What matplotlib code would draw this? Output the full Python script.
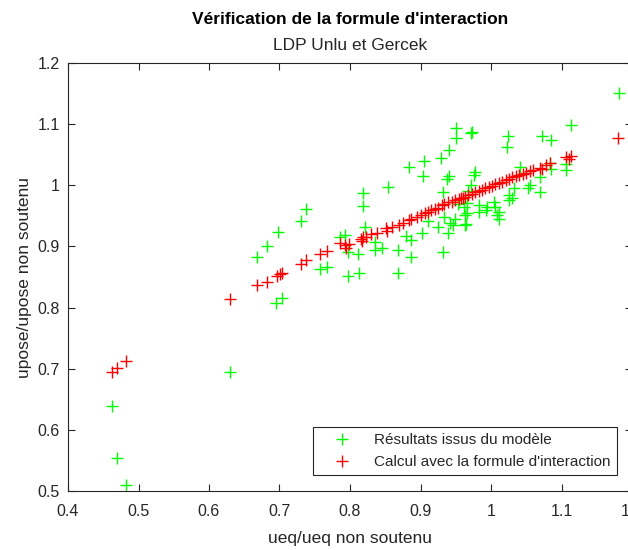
import matplotlib
matplotlib.use("Agg")
import matplotlib.pyplot as plt
from matplotlib.ticker import FuncFormatter

plt.rcParams['font.family'] = ['Liberation Sans', 'DejaVu Sans']

# Model results (green)
green_x = [0.463, 0.469, 0.482, 0.630, 0.695, 0.703, 0.668, 0.682, 0.698, 0.731,
           0.738, 0.757, 0.767, 0.786, 0.793, 0.797, 0.813, 0.868, 0.797, 0.812,
           0.821, 0.835, 0.835, 0.845, 0.868, 0.880, 0.887, 0.887, 0.902, 0.910,
           0.925, 0.939, 0.942, 0.946, 0.963, 0.932, 0.819, 0.819, 0.854, 0.883,
           0.905, 0.929, 0.940, 0.950, 0.950, 0.971, 0.973, 0.903, 0.937, 0.940,
           0.978, 0.932, 0.976, 0.971, 0.968, 1.024, 1.023, 1.073, 1.085, 1.114,
           1.181, 1.041, 1.083, 1.085, 1.107, 1.107, 1.055, 1.052, 1.070, 1.025,
           1.030, 1.025, 1.004, 1.005, 0.993, 0.983, 0.961, 0.966, 0.963, 0.965,
           0.983, 0.994, 1.009, 1.012, 0.953, 0.949, 0.934, 1.011, 0.966, 1.069,
           1.033]
green_y = [0.639, 0.554, 0.509, 0.694, 0.807, 0.816, 0.882, 0.900, 0.923, 0.941,
           0.961, 0.863, 0.867, 0.916, 0.919, 0.851, 0.857, 0.857, 0.891, 0.887,
           0.931, 0.908, 0.894, 0.897, 0.894, 0.917, 0.911, 0.882, 0.922, 0.941,
           0.932, 0.922, 0.938, 0.935, 0.935, 0.891, 0.987, 0.966, 0.998, 1.030,
           1.039, 1.045, 1.057, 1.094, 1.077, 1.086, 1.087, 1.015, 1.011, 1.016,
           1.021, 0.989, 1.017, 1.001, 0.990, 1.081, 1.062, 1.080, 1.074, 1.099,
           1.151, 1.030, 1.036, 1.027, 1.035, 1.025, 1.001, 0.996, 0.989, 0.984,
           0.979, 0.976, 0.972, 0.964, 0.960, 0.957, 0.965, 0.971, 0.951, 0.937,
           0.968, 0.965, 0.951, 0.945, 0.970, 0.945, 0.948, 0.956, 0.954, 1.014,
           0.995]

# Interaction formula (red)
red_x = [0.463, 0.469, 0.482, 0.630, 0.668, 0.682, 0.696, 0.701, 0.704, 0.731,
         0.738, 0.757, 0.767, 0.786, 0.793, 0.798, 0.795, 0.815, 0.819, 0.817,
         0.822, 0.830, 0.839, 0.851, 0.853, 0.860, 0.870, 0.875, 0.883, 0.887,
         0.895, 0.900, 0.906, 0.910, 0.915, 0.920, 0.925, 0.930, 0.934, 0.939,
         0.944, 0.949, 0.954, 0.957, 0.960, 0.963, 0.968, 0.973, 0.978, 0.983,
         0.987, 0.992, 0.997, 1.002, 1.006, 1.011, 1.015, 1.021, 1.025, 1.030,
         1.035, 1.040, 1.045, 1.049, 1.055, 1.060, 1.069, 1.072, 1.078, 1.084,
         1.107, 1.110, 1.113, 1.180]
red_y = [0.695, 0.701, 0.713, 0.814, 0.837, 0.842, 0.852, 0.855, 0.856, 0.872,
         0.877, 0.888, 0.892, 0.905, 0.902, 0.904, 0.898, 0.912, 0.915, 0.909,
         0.916, 0.920, 0.922, 0.930, 0.926, 0.932, 0.935, 0.938, 0.943, 0.945,
         0.948, 0.951, 0.954, 0.956, 0.959, 0.962, 0.963, 0.967, 0.969, 0.972,
         0.973, 0.976, 0.977, 0.979, 0.980, 0.981, 0.984, 0.985, 0.989, 0.990,
         0.992, 0.995, 0.998, 0.999, 1.002, 1.003, 1.005, 1.008, 1.010, 1.013,
         1.015, 1.017, 1.019, 1.020, 1.023, 1.025, 1.029, 1.027, 1.033, 1.036,
         1.046, 1.043, 1.048, 1.078]

title = "Vérification de la formule d'interaction"
subtitle = "LDP Unlu et Gercek"
xlabel = "ueq/ueq non soutenu"
ylabel = "upose/upose non soutenu"
legend_labels = ["Résultats issus du modèle", "Calcul avec la formule d'interaction"]
xticks = [0.4, 0.5, 0.6, 0.7, 0.8, 0.9, 1.0, 1.1, 1.2]
yticks = [0.5, 0.6, 0.7, 0.8, 0.9, 1.0, 1.1, 1.2]

W, H = 628, 550
fig = plt.figure(figsize=(W / 100, H / 100), dpi=100)
left, right, top, bottom = 68, 632, 63, 491
ax = fig.add_axes([left / W, (H - bottom) / H, (right - left) / W, (bottom - top) / H])

dark = (0.15, 0.15, 0.15)
ax.plot(green_x, green_y, linestyle='none', marker='+', color=(0, 1, 0),
        markersize=8.5, markeredgewidth=1.0, label=legend_labels[0], clip_on=False)
ax.plot(red_x, red_y, linestyle='none', marker='+', color=(1, 0, 0),
        markersize=8.5, markeredgewidth=1.0, label=legend_labels[1], clip_on=False)

ax.set_xlim(0.4, 1.2)
ax.set_ylim(0.5, 1.2)
ax.set_xticks(xticks)
ax.set_yticks(yticks)
fmt = FuncFormatter(lambda v, p: f"{v:g}")
ax.xaxis.set_major_formatter(fmt)
ax.yaxis.set_major_formatter(fmt)
ax.tick_params(direction='in', length=5, width=0.8, colors=dark, labelsize=11.5,
               top=True, right=True)
ax.tick_params(axis='x', pad=9)
ax.tick_params(axis='y', pad=6)
for s in ax.spines.values():
    s.set_color(dark)
    s.set_linewidth(0.8)

ax.set_xlabel(xlabel, fontsize=12.5, color=dark, labelpad=9)
ax.set_ylabel(ylabel, fontsize=12.5, color=dark, labelpad=4)

fig.text(350 / W, 1 - 19 / H, title, ha='center', va='center', fontsize=12.5,
         fontweight='bold', color='black')
fig.text(350 / W, 1 - 46 / H, subtitle, ha='center', va='center', fontsize=12.5,
         color=dark)

leg = ax.legend(loc='lower right', bbox_to_anchor=(617 / W, 75 / H),
                bbox_transform=fig.transFigure, borderaxespad=0, fancybox=False,
                edgecolor=dark, framealpha=1, fontsize=11, handlelength=3.0,
                handletextpad=0.65, borderpad=0.4, labelspacing=0.5)
leg.get_frame().set_linewidth(0.8)
for t in leg.get_texts():
    t.set_color(dark)

fig.savefig("out.png", dpi=100)
